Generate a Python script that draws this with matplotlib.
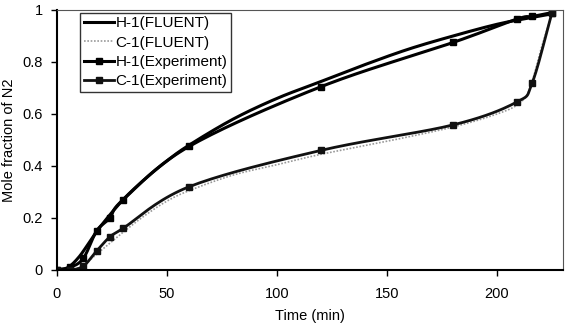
import numpy as np
import matplotlib.pyplot as plt

plt.rcParams['font.family'] = ['Liberation Sans', 'DejaVu Sans']

# FLUENT curves
h1_fluent_t = [0, 5, 10, 15, 20, 30, 40, 50, 60, 80, 100, 120, 140, 160, 180, 200, 215, 225]
h1_fluent_y = [0, 0.01, 0.05, 0.11, 0.17, 0.27, 0.35, 0.42, 0.48, 0.58, 0.66, 0.725, 0.79, 0.85, 0.90, 0.945, 0.97, 0.985]

c1_fluent_t = [0, 10, 20, 30, 40, 50, 60, 80, 100, 120, 150, 180, 200, 210, 215, 220, 225]
c1_fluent_y = [0, 0.01, 0.075, 0.145, 0.21, 0.265, 0.305, 0.365, 0.405, 0.445, 0.495, 0.55, 0.60, 0.64, 0.70, 0.85, 0.985]

# Experiment points
h1_exp_t = [0, 6, 12, 18, 24, 30, 60, 120, 180, 209, 216, 225]
h1_exp_y = [0, 0.01, 0.045, 0.15, 0.20, 0.27, 0.475, 0.705, 0.875, 0.965, 0.975, 0.99]

c1_exp_t = [0, 6, 12, 18, 24, 30, 60, 120, 180, 209, 216, 225]
c1_exp_y = [0, 0, 0.015, 0.073, 0.127, 0.16, 0.32, 0.46, 0.558, 0.646, 0.72, 0.99]


def smooth(x, y, n=20):
    # catmull-rom through the points, like a spreadsheet "smoothed line"
    x = np.asarray(x, float)
    y = np.asarray(y, float)
    px = np.concatenate([[2 * x[0] - x[1]], x, [2 * x[-1] - x[-2]]])
    py = np.concatenate([[2 * y[0] - y[1]], y, [2 * y[-1] - y[-2]]])
    xs, ys = [], []
    s = np.linspace(0, 1, n, endpoint=False)
    for i in range(1, len(px) - 2):
        for p, out in ((px, xs), (py, ys)):
            p0, p1, p2, p3 = p[i - 1], p[i], p[i + 1], p[i + 2]
            out.extend(0.5 * (2 * p1 + (-p0 + p2) * s
                              + (2 * p0 - 5 * p1 + 4 * p2 - p3) * s ** 2
                              + (-p0 + 3 * p1 - 3 * p2 + p3) * s ** 3))
    xs.append(x[-1])
    ys.append(y[-1])
    return xs, ys


fig = plt.figure(figsize=(5.67, 3.24), dpi=100)
ax = fig.add_axes([0.1005, 0.1667, 0.8925, 0.8025])

l1, = ax.plot(*smooth(h1_fluent_t, h1_fluent_y), color='black', lw=2.2)
l2, = ax.plot(*smooth(c1_fluent_t, c1_fluent_y), color='#999999', lw=1.2, ls=(0, (1, 1)))
ax.plot(*smooth(h1_exp_t, h1_exp_y), color='black', lw=2.2)
ax.plot(h1_exp_t, h1_exp_y, ls='none', color='black', marker='s', ms=5)
ax.plot(*smooth(c1_exp_t, c1_exp_y), color='#111111', lw=2.0)
ax.plot(c1_exp_t, c1_exp_y, ls='none', color='#111111', marker='s', ms=5)

# legend proxies for the marker series
l3, = ax.plot([], [], color='black', lw=2.2, marker='s', ms=5)
l4, = ax.plot([], [], color='#111111', lw=2.0, marker='s', ms=5)

ax.set_xlim(0, 230)
ax.set_ylim(0, 1)
ax.set_xticks([0, 50, 100, 150, 200])
ax.set_yticks([0, 0.2, 0.4, 0.6, 0.8, 1])
ax.set_yticklabels(['0', '0.2', '0.4', '0.6', '0.8', '1'])
ax.tick_params(labelsize=10.5, length=4, width=1)
ax.tick_params(axis='x', pad=8)
ax.tick_params(axis='y', pad=6)
ax.set_xlabel('Time (min)', fontsize=10.5, labelpad=6)
ax.set_ylabel('Mole fraction of N2', fontsize=10.5, labelpad=5)

for s in ['left', 'bottom']:
    ax.spines[s].set_linewidth(1.5)
for s in ['top', 'right']:
    ax.spines[s].set_linewidth(0.8)
    ax.spines[s].set_color('#555555')

leg = ax.legend([l1, l2, l3, l4],
                ['H-1(FLUENT)', 'C-1(FLUENT)', 'H-1(Experiment)', 'C-1(Experiment)'],
                loc='upper left', bbox_to_anchor=(0.045, 0.99), fontsize=11,
                frameon=True, fancybox=False, handlelength=2.0, handletextpad=0.1,
                borderpad=0.25, labelspacing=0.35, borderaxespad=0)
leg.get_frame().set_edgecolor('black')
leg.get_frame().set_linewidth(1.0)

fig.savefig('out.png', dpi=100)
